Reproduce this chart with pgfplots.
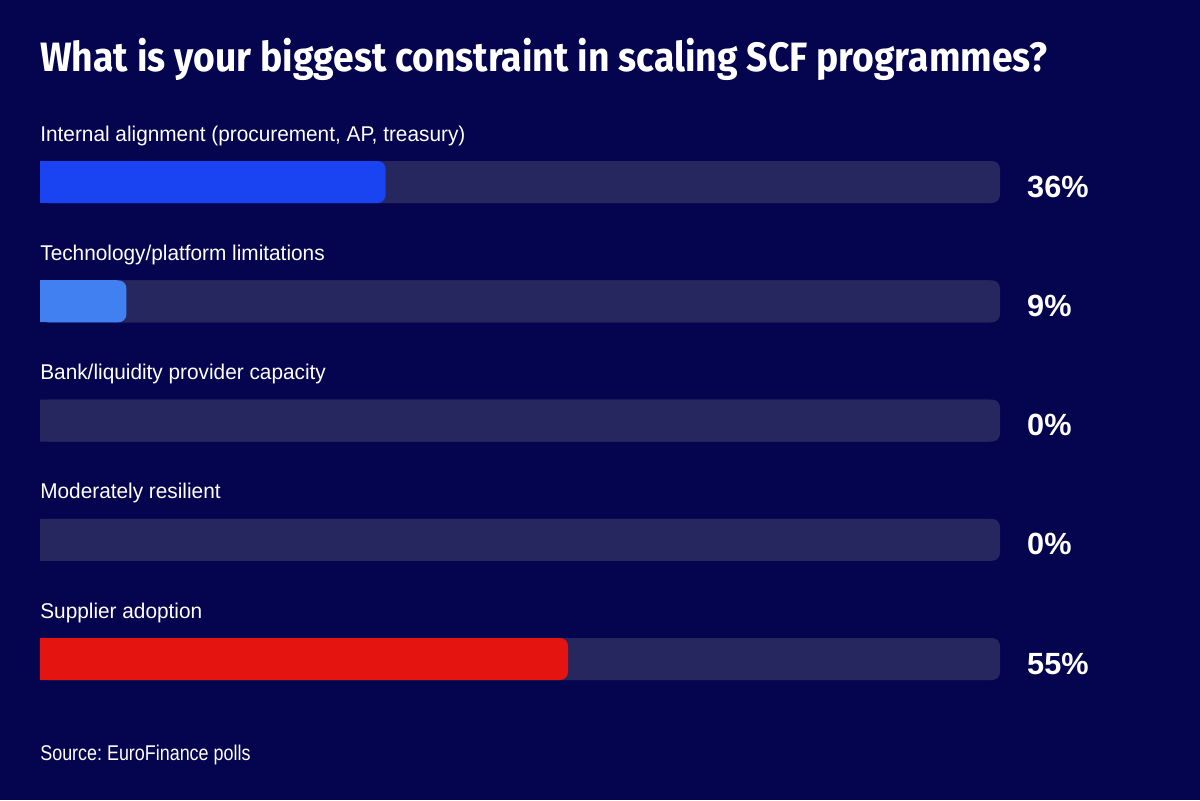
\documentclass[border=0pt]{standalone}
\usepackage{pgfplots}
\usepackage{pgfplotstable}
\pgfplotsset{compat=1.18}
\usepackage{fontspec}
\usetikzlibrary{backgrounds}
\setmainfont{Liberation Sans}
\newfontfamily\titlefont{Fira Sans}[FakeStretch=0.91]
\newfontfamily\labelfont{Liberation Sans}[FakeStretch=0.975]
\newfontfamily\sourcefont{Liberation Sans}[FakeStretch=0.84]
\frenchspacing

\definecolor{bg}{HTML}{04044F}
\definecolor{track}{HTML}{27275F}
\definecolor{barblue}{HTML}{1A44F2}
\definecolor{barlight}{HTML}{4080F0}
\definecolor{barred}{HTML}{E41411}

% y = vertical position of each row, val = share of answers in %
\pgfplotstableread{
y      val
182    36
301.3  9
420.5  0
539.8  0
659    55
}\polldata

\begin{document}
\begin{tikzpicture}[background rectangle/.style={fill=bg}, show background rectangle, inner frame sep=0pt]
\begin{axis}[
  x=5.76pt, y=0.6pt, y dir=reverse,
  xmin=-4.16667, xmax=120.83333, ymin=0, ymax=800,
  hide axis, clip=false,
  bar width=25.2pt,
  /pgf/number format/assume math mode=true,
]
\path (rel axis cs:0,0) rectangle (rel axis cs:1,1);
% grey tracks: right end rounded, left end square
\addplot[xbar, bar shift=0pt, draw=none, fill=track, rounded corners=4.8pt]
  coordinates {(100,182) (100,301.3) (100,420.5) (100,539.8) (100,659)};
\addplot[xbar, bar shift=0pt, draw=none, fill=track]
  coordinates {(99,182) (99,301.3) (99,420.5) (99,539.8) (99,659)};
% coloured bars
\addplot[xbar, bar shift=0pt, draw=none, fill=barblue, rounded corners=4.8pt] coordinates {(36,182)};
\addplot[xbar, bar shift=0pt, draw=none, fill=barblue] coordinates {(35,182)};
\addplot[xbar, bar shift=0pt, draw=none, fill=barlight, rounded corners=4.8pt] coordinates {(9,301.3)};
\addplot[xbar, bar shift=0pt, draw=none, fill=barlight] coordinates {(8,301.3)};
\addplot[xbar, bar shift=0pt, draw=none, fill=barred, rounded corners=4.8pt] coordinates {(55,659)};
\addplot[xbar, bar shift=0pt, draw=none, fill=barred] coordinates {(54,659)};
% value labels at the right of the tracks
\addplot[draw=none, mark=none, nodes near coords={\pgfmathprintnumber{\pgfplotspointmeta}\%},
  point meta=explicit,
  every node near coord/.append style={anchor=base west, inner sep=0pt, text=white,
    font=\fontsize{18.4}{20}\selectfont\bfseries}]
  table[x expr=102.8, y expr=\thisrow{y}+15, meta=val] {\polldata};
% row labels above the tracks
\begin{scope}[every node/.style={anchor=base west, inner sep=0pt, text=white, font=\labelfont\fontsize{12.8}{14}\selectfont}]
\node at (axis cs:0,141) {Internal alignment (procurement, AP, treasury)};
\node at (axis cs:0,260.3) {Technology/platform limitations};
\node at (axis cs:0,379.5) {Bank/liquidity provider capacity};
\node at (axis cs:0,498.8) {Moderately resilient};
\node at (axis cs:0,618) {Supplier adoption};
\end{scope}
\node[anchor=base west, inner sep=0pt, text=white, font=\titlefont\bfseries\fontsize{24.6}{28}\selectfont] at (axis cs:0,72) {What is your biggest constraint in scaling SCF programmes?};
\node[anchor=base west, inner sep=0pt, text=white, font=\sourcefont\fontsize{12.8}{14}\selectfont] at (axis cs:0,760) {Source: EuroFinance polls};
\end{axis}
\end{tikzpicture}
\end{document}
